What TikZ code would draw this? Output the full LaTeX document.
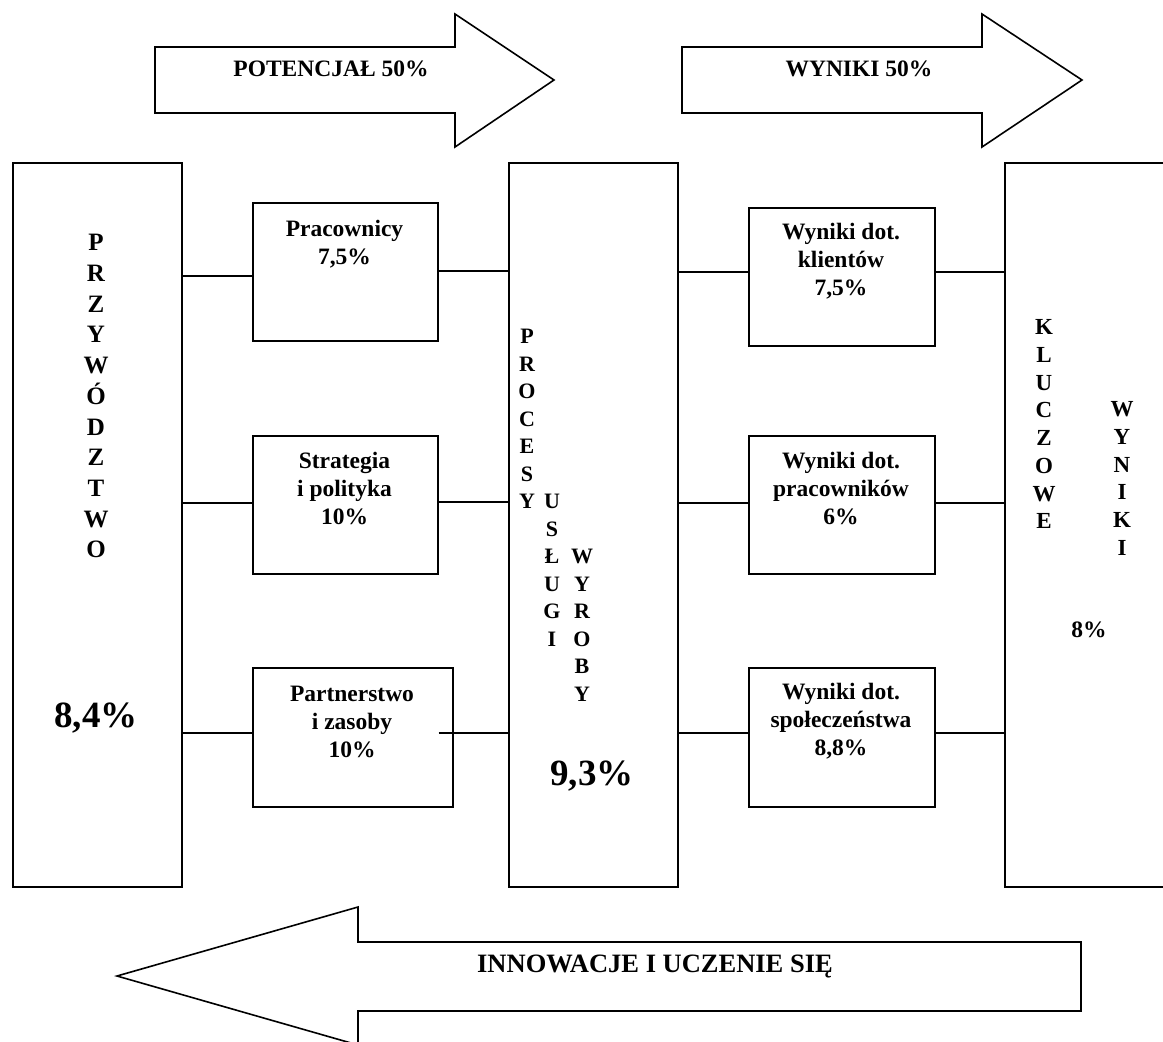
\documentclass[tikz,border=0pt]{standalone}
\usepackage{fontspec}
\setmainfont{Liberation Serif}
\begin{document}
\begin{tikzpicture}[x=1pt,y=-1pt,line width=1.6pt,line join=miter,
  box/.style={draw,rectangle,inner sep=0pt,anchor=north west},
  btxt/.style={font=\bfseries\fontsize{23.5}{28}\selectfont,align=center,inner sep=0pt,anchor=north},
  atxt/.style={font=\bfseries\fontsize{23.5}{28}\selectfont,inner sep=0pt,anchor=base},
  big/.style={font=\bfseries\fontsize{37}{40}\selectfont,inner sep=0pt,anchor=base},
  lead/.style={font=\bfseries\fontsize{25}{30.7}\selectfont,align=center,inner sep=0pt,anchor=north},
  proc/.style={font=\bfseries\fontsize{22}{27.5}\selectfont,align=center,inner sep=0pt,anchor=north},
  klu/.style={font=\bfseries\fontsize{23}{27.7}\selectfont,align=center,inner sep=0pt,anchor=north}]
\useasboundingbox (0,0) rectangle (1163,1042);

% big arrows
\draw (155,47) -- (455,47) -- (455,14) -- (554,80) -- (455,147) -- (455,113) -- (155,113) -- cycle;
\node[atxt] (potencjal) at (331,76) {POTENCJAŁ 50\%};
\draw (682,47) -- (982,47) -- (982,14) -- (1082,80) -- (982,147) -- (982,113) -- (682,113) -- cycle;
\node[atxt] (wyniki) at (859,76) {WYNIKI 50\%};
\draw (1081,942) -- (358,942) -- (358,907) -- (117,976) -- (358,1045) -- (358,1011) -- (1081,1011) -- cycle;
\node[atxt,font=\bfseries\fontsize{26.5}{30}\selectfont] (innow) at (655,972) {INNOWACJE I UCZENIE SIĘ};

% tall boxes
\node[box,minimum width=169,minimum height=724] (L) at (12,162) {};
\node[box,minimum width=169,minimum height=724] (M) at (508,162) {};
\node[box,minimum width=176,minimum height=724] (R) at (1004,162) {};

% small boxes
\node[box,minimum width=185,minimum height=138] (pr) at (252,202) {};
\node[box,minimum width=185,minimum height=138] (st) at (252,435) {};
\node[box,minimum width=200,minimum height=139] (pa) at (252,667) {};
\node[box,minimum width=186,minimum height=138] (wk) at (748,207) {};
\node[box,minimum width=186,minimum height=138] (wp) at (748,435) {};
\node[box,minimum width=186,minimum height=139] (ws) at (748,667) {};

% box texts
\node[btxt] (prt) at (344.5,236-19.6) {\strut Pracownicy\\7,5\%};
\node[btxt] (stt) at (344.5,468-19.6) {\strut Strategia\\i polityka\\10\%};
\node[btxt] (pat) at (352,701-19.6) {\strut Partnerstwo\\i zasoby\\10\%};
\node[btxt] (wkt) at (841,239-19.6) {\strut Wyniki dot.\\klientów\\7,5\%};
\node[btxt] (wpt) at (841,468-19.6) {\strut Wyniki dot.\\pracowników\\6\%};
\node[btxt] (wst) at (841,699-19.6) {\strut Wyniki dot.\\społeczeństwa\\8,8\%};

% vertical labels
\node[lead] (przyw) at (96,250-21.49) {\strut P\\R\\Z\\Y\\W\\Ó\\D\\Z\\T\\W\\O};
\node[big] (lpct) at (96,727) {8,4\%};
\node[proc] (procesy) at (527,343-19.25) {\strut P\\R\\O\\C\\E\\S\\Y};
\node[proc] (uslugi) at (552,508-19.25) {\strut U\\S\\Ł\\U\\G\\I};
\node[proc] (wyroby) at (582,563-19.25) {\strut W\\Y\\R\\O\\B\\Y};
\node[big] (mpct) at (592,785) {9,3\%};
\node[klu] (kluczowe) at (1044,334-19.39) {\strut K\\L\\U\\C\\Z\\O\\W\\E};
\node[klu] (kwyniki) at (1122,416-19.39) {\strut W\\Y\\N\\I\\K\\I};
\node[atxt,font=\bfseries\fontsize{23.5}{26}\selectfont] (rpct) at (1089,637) {8\%};

% connectors left side
\draw (L.east |- 0,276) -- (pr.west |- 0,276);
\draw (L.east |- 0,503) -- (st.west |- 0,503);
\draw (L.east |- 0,733) -- (pa.west |- 0,733);
\draw (pr.east |- 0,271) -- (M.west |- 0,271);
\draw (st.east |- 0,502) -- (M.west |- 0,502);
\draw ([xshift=-15pt]pa.east |- 0,733) -- (M.west |- 0,733);
% connectors right side
\draw (M.east |- 0,272) -- (wk.west |- 0,272);
\draw (M.east |- 0,503) -- (wp.west |- 0,503);
\draw (M.east |- 0,733) -- (ws.west |- 0,733);
\draw (wk.east |- 0,272) -- (R.west |- 0,272);
\draw (wp.east |- 0,503) -- (R.west |- 0,503);
\draw (ws.east |- 0,733) -- (R.west |- 0,733);
\end{tikzpicture}
\end{document}
